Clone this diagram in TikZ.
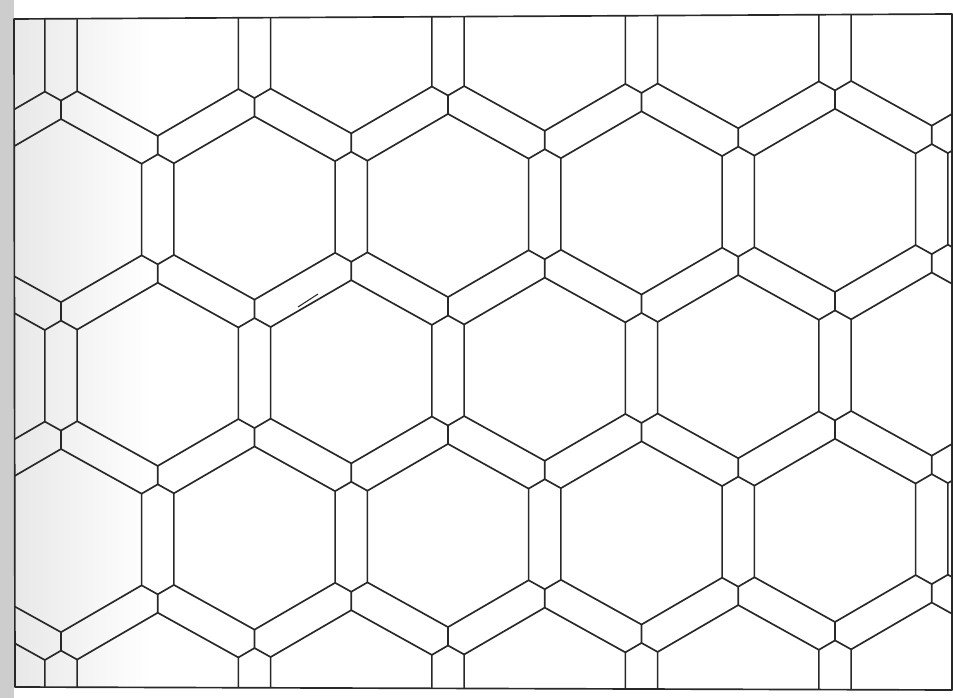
\documentclass[tikz,border=0pt]{standalone}
\usepackage{xcolor}
\definecolor{leadgray}{RGB}{40,40,40}
\definecolor{shadowgray}{RGB}{205,205,205}
\usetikzlibrary{calc}
\tikzset{
  came/.style={line width=1.25pt, leadgray, line join=round},
}

\begin{document}
\begin{tikzpicture}[x=0.75pt,y=-0.75pt]
  \useasboundingbox (0,0) rectangle (953,698);

  % Scan shadow at the spine
  \fill[shadowgray] (0,0) rectangle (14,698);
  \shade[left color=black!9, right color=white] (14,19) rectangle (150,687);

  % Frame
  \draw[came] (14,19) -- (952,14) -- (952,690) -- (15,687) -- cycle;

  % --- Honeycomb: glass hexagons with mitred lead bands ---
  \begin{scope}
    \clip (14,19) -- (952,14) -- (952,690) -- (15,687) -- cycle;
    \begin{scope}[shift={(448,0)}, yslant=0.0132]
      \foreach \rowy/\rowshift in {40.5/96.75, 205.5/0, 370.5/96.75, 535.5/0, 700.5/96.75}
        \foreach \i in {-3,...,3} {
          \pgfmathsetmacro\cx{193.5*\i+\rowshift}
          \begin{scope}[shift={(\cx,\rowy)}]
            % glass
            \draw[came] (0,-91.6) -- (80.6,-45.8) -- (80.6,45.8) -- (0,91.6)
              -- (-80.6,45.8) -- (-80.6,-45.8) -- cycle;
            % mitres to the band joints
            \draw[came] (0,-91.6) -- (0,-110)
                        (80.6,-45.8) -- (96.75,-55)
                        (80.6,45.8) -- (96.75,55)
                        (0,91.6) -- (0,110)
                        (-80.6,45.8) -- (-96.75,55)
                        (-80.6,-45.8) -- (-96.75,-55);
          \end{scope}
        }
    \end{scope}
  \end{scope}

  % Pen mark
  \draw[leadgray, line width=0.8pt] (298,307) -- (318,294);
\end{tikzpicture}
\end{document}
